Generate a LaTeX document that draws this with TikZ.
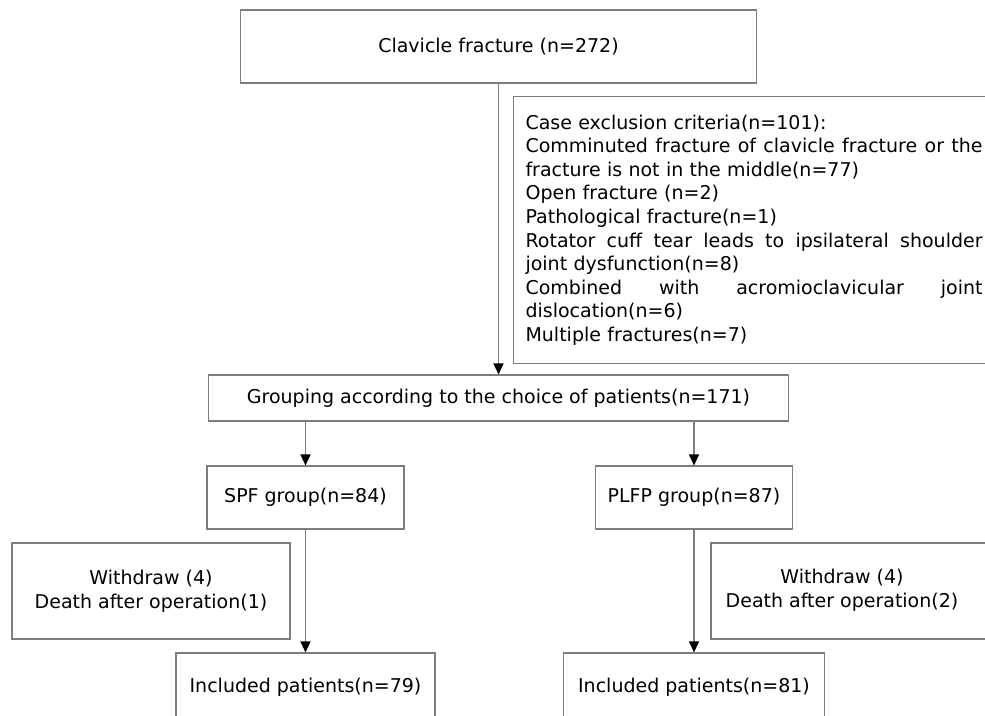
\documentclass[tikz,border=0pt]{standalone}
\usepackage{fontspec}
\setmainfont{DejaVu Sans}
\usepackage{tikz}
\usetikzlibrary{positioning,arrows.meta}
\definecolor{linegray}{RGB}{125,125,125}
\newcommand{\fullline}[1]{\makebox[457pt][s]{\spaceskip=0pt\xspaceskip=0pt\relax #1}}

\begin{document}
\begin{tikzpicture}[x=1pt, y=-1pt, font=\fontsize{19}{23.6}\selectfont,
  flowbox/.style={draw=linegray, line width=1.1pt, inner sep=0pt},
  flowarrow/.style={draw=linegray, line width=1.1pt, -{Triangle[width=10pt,length=11pt,color=black]}}]
\useasboundingbox (0,0) rectangle (985,715);
\node[flowbox, minimum width=516, minimum height=73] (node_fracture) at (498.5,46.5) {Clavicle fracture (n=272)};
\node[flowbox, anchor=north west, text width=457, align=left, inner xsep=12pt, minimum height=267] (node_exclude) at (513,96) {%
Case exclusion criteria(n=101):\\
\fullline{Comminuted fracture of clavicle fracture or the}\\
fracture is not in the middle(n=77)\\
Open fracture (n=2)\\
Pathological fracture(n=1)\\
\fullline{Rotator cuff tear leads to ipsilateral shoulder}\\
joint dysfunction(n=8)\\
\fullline{Combined with acromioclavicular joint}\\
dislocation(n=6)\\
Multiple fractures(n=7)};
\node[flowbox, minimum width=580, minimum height=46] (node_grouping) at (498.5,398) {Grouping according to the choice of patients(n=171)};
\node[flowbox, minimum width=197, minimum height=63] (node_spf) at (305.5,497.5) {SPF group(n=84)};
\node[flowbox, minimum width=197, minimum height=63] (node_plfp) at (694,497.5) {PLFP group(n=87)};
\node[flowbox, minimum width=278, minimum height=96, align=center] (node_withdraw_a) at (151,591) {Withdraw (4)\\Death after operation(1)};
\node[flowbox, minimum width=289, minimum height=96] (node_withdraw_b) at (855.5,591) {\begin{tabular}{@{}c@{}}Withdraw (4)\\Death after operation(2)\end{tabular}\rule{27pt}{0pt}};
\node[flowbox, minimum width=259, minimum height=68] (node_included_a) at (305.5,687) {Included patients(n=79)};
\node[flowbox, minimum width=261.5, minimum height=68] (node_included_b) at (694,687) {Included patients(n=81)};
\draw[flowarrow] (node_fracture) -- (node_grouping);
\draw[flowarrow] (node_grouping.south -| node_spf) -- (node_spf);
\draw[flowarrow] (node_grouping.south -| node_plfp) -- (node_plfp);
\draw[flowarrow] (node_spf) -- (node_included_a);
\draw[flowarrow] (node_plfp) -- (node_included_b);
\end{tikzpicture}
\end{document}
